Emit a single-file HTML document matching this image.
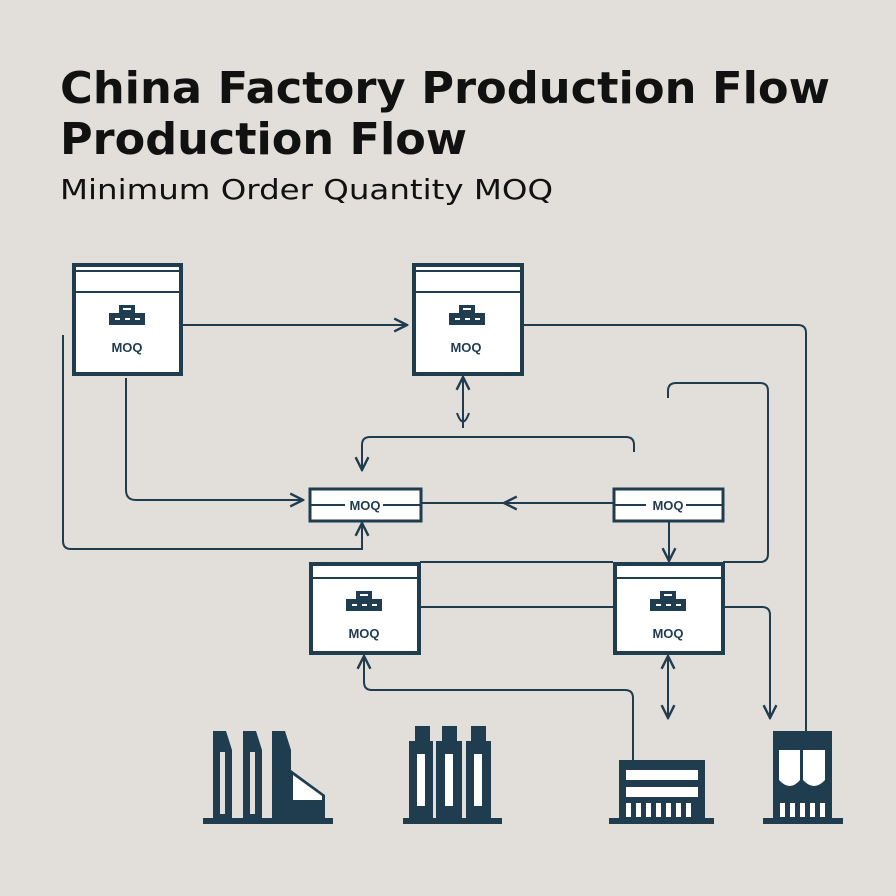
<!DOCTYPE html>
<html><head><meta charset="utf-8"><style>
html,body{margin:0;padding:0;background:#e2dfda;}
svg{display:block}
</style></head><body>
<svg width="896" height="896" viewBox="0 0 896 896" xmlns="http://www.w3.org/2000/svg">
<defs>
<marker id="a" viewBox="0 0 10 10" refX="9" refY="5" markerWidth="8" markerHeight="8" orient="auto-start-reverse"><path d="M1 1 L9 5 L1 9" fill="none" stroke="#1f3d4f" stroke-width="1.5"/></marker>
<g id="ic"><rect x="-8" y="-17" width="16" height="9" fill="#1f3d4f"/><rect x="-18" y="-9" width="36" height="12" fill="#1f3d4f"/><rect x="-12" y="-4" width="5" height="2" fill="#fff"/><rect x="-2" y="-4" width="5" height="2" fill="#fff"/><rect x="8" y="-4" width="5" height="2" fill="#fff"/><rect x="-4" y="-14" width="8" height="2" fill="#fff"/></g>
</defs>
<rect width="896" height="896" fill="#e2dfda"/>
<g font-family="DejaVu Sans, Liberation Sans, sans-serif" fill="#111">
<text x="60" y="103" font-size="44" font-weight="bold" textLength="770" lengthAdjust="spacingAndGlyphs">China Factory Production Flow</text>
<text x="60" y="154" font-size="44" font-weight="bold" textLength="407" lengthAdjust="spacingAndGlyphs">Production Flow</text>
<text x="60" y="199" font-size="28" textLength="493" lengthAdjust="spacingAndGlyphs">Minimum Order Quantity MOQ</text>
</g>
<g fill="none" stroke="#1f3d4f" stroke-width="2">
<path d="M182 325 H407" marker-end="url(#a)"/>
<path d="M523 325 H798 Q806 325 806 333 V731"/>
<path d="M463 428 V377" marker-end="url(#a)"/>
<path d="M457 413 Q463 430 469 413"/>
<path d="M634 452 V445 Q634 437 626 437 H370 Q362 437 362 445 V470" marker-end="url(#a)"/>
<path d="M126 378 V490 Q126 500 136 500 H303" marker-end="url(#a)"/>
<path d="M613 503 H421"/>
<path d="M512 503 L504 503" marker-end="url(#a)"/>
<path d="M63 335 V541 Q63 549 71 549 H362 V523" marker-end="url(#a)"/>
<path d="M668 398 V391 Q668 383 676 383 H760 Q768 383 768 391 V554 Q768 562 760 562 H723"/>
<path d="M420 562 H613" />
<path d="M669 521 V561" marker-end="url(#a)"/>
<path d="M420 607 H613"/>
<path d="M725 607 H762 Q770 607 770 615 V718" marker-end="url(#a)"/>
<path d="M364 656 V682 Q364 690 372 690 H625 Q633 690 633 698 V760" marker-start="url(#a)"/>
<path d="M668 656 V718" marker-start="url(#a)" marker-end="url(#a)"/>
</g>
<g stroke="#1f3d4f" stroke-width="4" fill="#fff">
<rect x="74" y="265" width="107" height="109"/>
<rect x="414" y="265" width="108" height="109"/>
<rect x="311" y="564" width="108" height="89"/>
<rect x="615" y="564" width="108" height="89"/>
<rect x="310" y="489" width="111" height="32" stroke-width="3"/>
<rect x="614" y="489" width="109" height="32" stroke-width="3"/>
</g>
<g stroke="#1f3d4f" stroke-width="2">
<path d="M74 271 H181 M74 292 H181 M414 271 H522 M414 292 H522 M311 578 H419 M615 578 H723"/>
<path d="M310 505 H345 M383 505 H421 M614 505 H646 M686 505 H723"/>
</g>
<use href="#ic" x="127" y="322"/><use href="#ic" x="467" y="322"/><use href="#ic" x="364" y="608"/><use href="#ic" x="668" y="608"/>
<g font-family="Liberation Sans, sans-serif" font-weight="bold" font-size="13" fill="#1f3d4f" text-anchor="middle">
<text x="127" y="352">MOQ</text><text x="466" y="352">MOQ</text><text x="364" y="638">MOQ</text><text x="668" y="638">MOQ</text>
<text x="365" y="510">MOQ</text><text x="668" y="510">MOQ</text>
</g>
<g fill="#1f3d4f">
<!-- icon 1 -->
<rect x="203" y="818" width="130" height="6"/>
<path d="M213 818 V731 H226 L232 750 V818Z M243 818 V731 H256 L262 750 V818Z M272 818 V731 H285 L291 750 V770 L325 795 L325 818Z"/>
<rect x="220" y="752" width="5" height="62" fill="#e2dfda"/><rect x="250" y="752" width="5" height="62" fill="#e2dfda"/>
<path d="M293 775 L322 796 V800 H293Z" fill="#fff"/>
<!-- icon 2 -->
<rect x="403" y="818" width="99" height="6"/>
<rect x="409" y="741" width="24" height="77"/><rect x="436" y="741" width="26" height="77"/><rect x="466" y="741" width="25" height="77"/>
<rect x="415" y="726" width="15" height="15"/><rect x="442" y="726" width="15" height="15"/><rect x="471" y="726" width="15" height="15"/>
<rect x="417" y="754" width="8" height="52" fill="#fff"/><rect x="445" y="754" width="8" height="52" fill="#fff"/><rect x="474" y="754" width="8" height="52" fill="#fff"/>
<!-- icon 3 -->
<rect x="609" y="818" width="105" height="6"/>
<rect x="619" y="760" width="86" height="58"/>
<g fill="#fff"><rect x="626" y="770" width="72" height="10"/><rect x="626" y="787" width="72" height="10"/>
<rect x="626" y="803" width="5" height="14"/><rect x="636" y="803" width="5" height="14"/><rect x="646" y="803" width="5" height="14"/><rect x="656" y="803" width="5" height="14"/><rect x="666" y="803" width="5" height="14"/><rect x="676" y="803" width="5" height="14"/><rect x="686" y="803" width="5" height="14"/></g>
<!-- icon 4 -->
<rect x="763" y="818" width="80" height="6"/>
<rect x="773" y="731" width="59" height="87"/>
<path d="M779 750 H800 V780 Q790 792 779 780Z M803 750 H825 V780 Q814 792 803 780Z" fill="#fff"/>
<g fill="#fff"><rect x="780" y="803" width="5" height="14"/><rect x="790" y="803" width="5" height="14"/><rect x="800" y="803" width="5" height="14"/><rect x="810" y="803" width="5" height="14"/><rect x="820" y="803" width="5" height="14"/></g>
</g>
</svg>
</body></html>
